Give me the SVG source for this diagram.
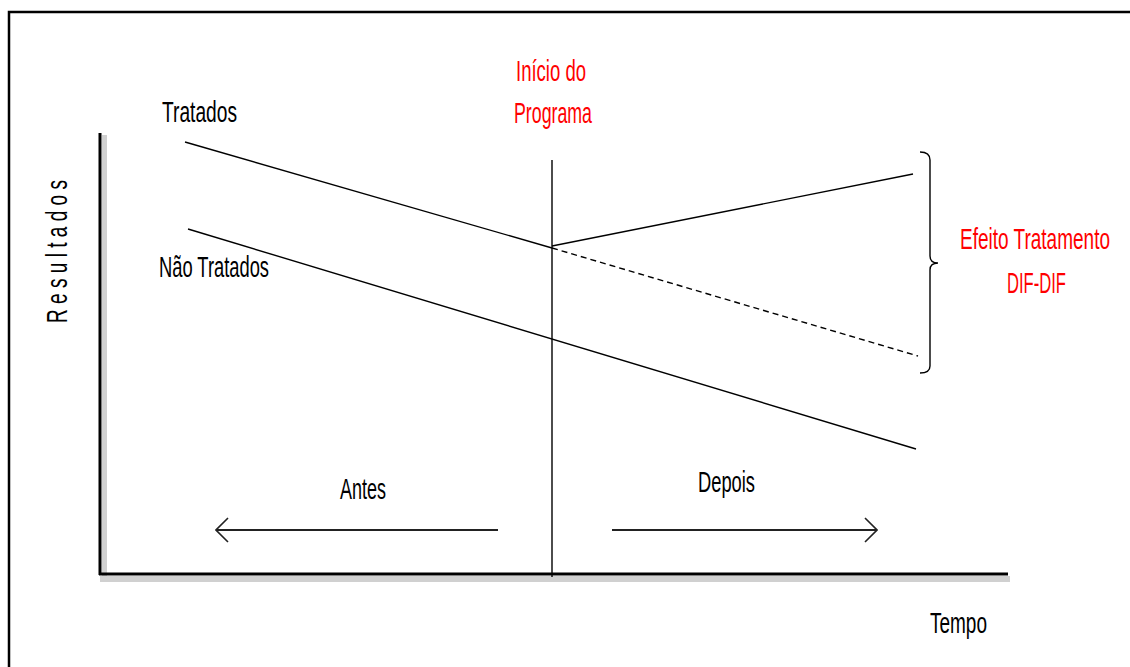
<svg xmlns="http://www.w3.org/2000/svg" width="1130" height="667" viewBox="0 0 1130 667">
<style>
  .t { font-family: "Liberation Sans", Arial, sans-serif; font-size: 29px; fill: #000; }
  .r { fill: #FF0000; }
  .ln { stroke: #000; stroke-width: 1.4; fill: none; }
  .arr { stroke: #222; stroke-width: 2; fill: none; }
</style>
<defs>
  <marker id="chev" viewBox="0 0 14 26" refX="13" refY="13" markerWidth="14" markerHeight="26" markerUnits="userSpaceOnUse" orient="auto">
    <path d="M1,1 L13,13 L1,25" fill="none" stroke="#222" stroke-width="1.6"/>
  </marker>
</defs>
<rect width="1130" height="667" fill="#fff"/>
<rect id="frame" x="9" y="12" width="1140" height="700" fill="none" stroke="#000" stroke-width="2.5"/>

<g id="axes">
  <rect x="102" y="135" width="5" height="443" fill="#d0d0d0"/>
  <rect x="100" y="576" width="910" height="6" fill="#d0d0d0"/>
  <line x1="100" y1="133" x2="100" y2="575" stroke="#000" stroke-width="3"/>
  <line x1="99" y1="574" x2="1008" y2="574" stroke="#000" stroke-width="3"/>
</g>

<g id="connectors">
  <line class="ln" x1="552" y1="160" x2="552" y2="577"/>
  <line class="ln" x1="185" y1="142" x2="552" y2="248"/>
  <line class="ln" x1="552" y1="246" x2="913" y2="174"/>
  <line class="ln" x1="552" y1="248" x2="918" y2="356" stroke-dasharray="6,4" stroke-width="1.8"/>
  <line class="ln" x1="188" y1="229" x2="916" y2="449"/>
  <path class="ln" d="M920,152 Q930,152 930,160 L930,256 Q930,263 938,263 Q930,263 930,270 L930,366 Q930,373 920,373"/>
  <line class="arr" x1="498" y1="530" x2="216" y2="530" marker-end="url(#chev)"/>
  <line class="arr" x1="612" y1="530" x2="877" y2="530" marker-end="url(#chev)"/>
</g>

<g id="label-tratados"><text class="t" x="162" y="122" textLength="75" lengthAdjust="spacingAndGlyphs">Tratados</text></g>
<g id="label-nao-tratados"><text class="t" x="159" y="277" textLength="110" lengthAdjust="spacingAndGlyphs">Não Tratados</text></g>
<g id="label-inicio">
  <text class="t r" x="516" y="81" textLength="70" lengthAdjust="spacingAndGlyphs">Início do</text>
  <text class="t r" x="514" y="123" textLength="78" lengthAdjust="spacingAndGlyphs">Programa</text>
</g>
<g id="label-efeito">
  <text class="t r" x="960" y="249" textLength="150" lengthAdjust="spacingAndGlyphs">Efeito Tratamento</text>
  <text class="t r" x="1007" y="293" textLength="59" lengthAdjust="spacingAndGlyphs">DIF-DIF</text>
</g>
<g id="label-antes"><text class="t" x="340" y="499" textLength="46" lengthAdjust="spacingAndGlyphs">Antes</text></g>
<g id="label-depois"><text class="t" x="698" y="492" textLength="57" lengthAdjust="spacingAndGlyphs">Depois</text></g>
<g id="label-tempo"><text class="t" x="930" y="633" textLength="57" lengthAdjust="spacingAndGlyphs">Tempo</text></g>
<g id="label-resultados"><text class="t" transform="translate(67,323) rotate(-90)" x="0" y="0" textLength="143" lengthAdjust="spacingAndGlyphs">R e s u l t a d o s</text></g>
</svg>
